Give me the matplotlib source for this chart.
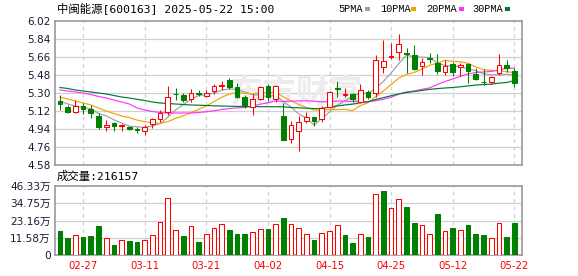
import matplotlib
matplotlib.use('Agg')
import matplotlib.pyplot as plt
from matplotlib.patches import Rectangle

# ---------------- data ----------------
dates = ['02-24','02-25','02-26','02-27','02-28','03-03','03-04','03-05','03-06','03-07',
         '03-10','03-11','03-12','03-13','03-14','03-17','03-18','03-19','03-20','03-21',
         '03-24','03-25','03-26','03-27','03-28','03-31','04-01','04-02','04-03','04-07',
         '04-08','04-09','04-10','04-11','04-14','04-15','04-16','04-17','04-18','04-21',
         '04-22','04-23','04-24','04-25','04-28','04-29','04-30','05-06','05-07','05-08',
         '05-09','05-12','05-13','05-14','05-15','05-16','05-19','05-20','05-21','05-22']

opens  = [5.22,5.16,5.11,5.17,5.14,5.07,4.96,5.00,4.97,4.96,
          4.94,4.92,4.99,5.04,5.11,5.295,5.28,5.24,5.30,5.27,
          5.32,5.375,5.43,5.36,5.26,5.16,5.24,5.37,5.24,5.07,
          4.84,4.92,5.02,5.06,5.04,5.16,5.35,5.285,5.29,5.21,
          5.31,5.30,5.56,5.66,5.71,5.70,5.68,5.57,5.655,5.60,
          5.51,5.59,5.56,5.59,5.49,5.415,5.41,5.50,5.58,5.52]
highs  = [5.28,5.18,5.23,5.20,5.18,5.10,5.03,5.01,4.99,4.97,
          4.96,4.98,5.05,5.13,5.37,5.35,5.30,5.34,5.33,5.33,
          5.39,5.42,5.45,5.40,5.28,5.29,5.37,5.39,5.38,5.20,
          5.02,5.07,5.11,5.06,5.17,5.32,5.42,5.35,5.30,5.39,
          5.33,5.68,5.83,5.80,5.89,5.75,5.78,5.65,5.70,5.69,
          5.63,5.61,5.60,5.60,5.55,5.54,5.47,5.69,5.63,5.55]
lows   = [5.13,5.10,5.10,5.09,5.05,4.94,4.92,4.92,4.92,4.93,
          4.90,4.88,4.95,5.01,5.08,5.23,5.21,5.21,5.27,5.26,
          5.29,5.33,5.34,5.25,5.15,5.08,5.23,5.22,5.21,4.83,
          4.80,4.72,5.00,4.97,5.01,5.15,5.26,5.26,5.21,5.20,
          5.24,5.26,5.50,5.64,5.63,5.50,5.53,5.48,5.60,5.49,
          5.48,5.47,5.47,5.40,5.43,5.38,5.39,5.48,5.51,5.36]
closes = [5.19,5.11,5.17,5.14,5.10,4.96,4.985,4.975,4.98,4.94,
          4.93,4.96,5.04,5.10,5.26,5.29,5.23,5.30,5.295,5.30,
          5.37,5.38,5.36,5.26,5.18,5.24,5.36,5.26,5.37,4.83,
          4.98,5.01,5.06,5.02,5.15,5.31,5.345,5.29,5.24,5.33,
          5.26,5.63,5.62,5.665,5.79,5.69,5.54,5.61,5.64,5.52,
          5.57,5.51,5.58,5.52,5.44,5.41,5.46,5.58,5.55,5.40]

ma5  = [5.22,5.19,5.17,5.155,5.142,5.096,5.071,5.032,5.000,4.968,
        4.962,4.957,4.970,4.994,5.058,5.130,5.184,5.236,5.275,5.283,
        5.299,5.329,5.341,5.334,5.310,5.284,5.280,5.260,5.282,5.212,
        5.160,5.090,5.050,4.980,5.044,5.110,5.177,5.223,5.267,5.303,
        5.293,5.350,5.416,5.501,5.593,5.679,5.661,5.659,5.654,5.600,
        5.576,5.570,5.564,5.540,5.524,5.492,5.482,5.482,5.488,5.480]
ma10 = [5.26,5.24,5.22,5.20,5.18,5.15,5.12,5.095,5.07,5.055,
        5.029,5.014,5.001,4.997,5.013,5.046,5.071,5.103,5.135,5.171,
        5.215,5.257,5.289,5.305,5.297,5.292,5.305,5.301,5.308,5.261,
        5.222,5.185,5.155,5.131,5.128,5.135,5.134,5.137,5.124,5.174,
        5.202,5.264,5.320,5.384,5.448,5.486,5.506,5.538,5.578,5.597,
        5.628,5.616,5.612,5.597,5.562,5.534,5.526,5.523,5.514,5.502]
ma20 = [5.33,5.32,5.31,5.30,5.285,5.265,5.25,5.23,5.21,5.19,
        5.15,5.13,5.115,5.105,5.10,5.10,5.10,5.10,5.105,5.113,
        5.122,5.135,5.145,5.151,5.155,5.169,5.188,5.202,5.221,5.216,
        5.218,5.221,5.222,5.218,5.212,5.213,5.219,5.219,5.216,5.217,
        5.212,5.224,5.237,5.258,5.288,5.311,5.320,5.337,5.351,5.385,
        5.415,5.440,5.466,5.491,5.505,5.510,5.516,5.530,5.546,5.549]
ma30 = [5.355,5.345,5.33,5.32,5.31,5.30,5.29,5.275,5.26,5.25,
        5.237,5.225,5.21,5.20,5.195,5.19,5.185,5.18,5.178,5.175,
        5.172,5.17,5.168,5.166,5.165,5.164,5.163,5.163,5.163,5.162,
        5.155,5.152,5.148,5.144,5.146,5.158,5.170,5.180,5.189,5.202,
        5.213,5.235,5.254,5.273,5.291,5.304,5.315,5.325,5.336,5.344,
        5.350,5.355,5.362,5.371,5.379,5.385,5.388,5.399,5.405,5.424]

# volume in 万 (10,000 shares)
volume = [16.1,11.4,13.2,12.1,12.8,19.5,11.2,6.7,9.8,9.4,
          8.7,9.8,13.2,21.9,38.0,16.6,12.8,19.2,8.7,13.9,
          17.9,20.6,16.8,14.1,14.1,15.2,17.2,17.5,20.6,24.8,
          20.6,17.9,13.9,10.1,14.5,15.9,19.9,13.4,8.1,13.9,
          12.1,40.7,43.0,31.3,37.4,32.2,21.5,19.9,13.9,27.5,
          15.9,18.1,16.6,20.1,14.1,13.4,11.2,21.3,12.1,21.6157]

price_ticks = [4.58,4.76,4.94,5.12,5.30,5.48,5.66,5.84,6.02]
vol_ticks = [0,11.58,23.16,34.75,46.33]
vol_tick_labels = ['0','11.58万','23.16万','34.75万','46.33万']
date_ticks = ['02-27','03-11','03-21','04-02','04-15','04-25','05-12','05-22']
title_text = '中闽能源[600163] 2025-05-22 15:00'
vol_text = '成交量:216157'
ma_names = ['5PMA','10PMA','20PMA','30PMA']

# ---------------- style ----------------
RED = '#ff0000'
GREEN = '#008000'
MA_COLORS = ['#a0a0a0', '#f5a300', '#ff33ff', '#007a33']
GRID = '#d0d0d0'
SPINE = '#999999'
LABEL = '#1a1a33'
CJK = ['DejaVu Sans', 'Noto Sans CJK SC']
MONO = ['DejaVu Sans Mono', 'Noto Sans CJK SC']

W, H = 578, 276
fig = plt.figure(figsize=(W / 100, H / 100), dpi=100)
fig.patch.set_facecolor('white')

def fx(px):
    return px / W

def fy(py):
    return 1 - py / H

L, R = 55, 522
ax = fig.add_axes([fx(L), fy(165), (R - L) / W, (165 - 21) / H])
axv = fig.add_axes([fx(L), fy(255), (R - L) / W, (255 - 186) / H])

n = len(closes)
xs = list(range(n))
tick_idx = [dates.index(d) for d in date_ticks]
xlim = (-0.65, 60.0)
bw = 0.6

for a in (ax, axv):
    a.set_xlim(*xlim)
    for s in a.spines.values():
        s.set_color(SPINE)
        s.set_linewidth(1.2)
    for t in tick_idx:
        a.axvline(t, color=GRID, lw=0.9, ls=(0, (3, 3)), zorder=0)
    a.tick_params(axis='both', length=0)

# main price axes
ax.set_ylim(price_ticks[0], price_ticks[-1])
ax.set_yticks(price_ticks)
ax.set_yticklabels(['%.2f' % t for t in price_ticks])
ax.tick_params(axis='y', pad=3, labelsize=7.6, labelcolor=LABEL)
ax.set_xticks([])
for t in price_ticks[1:-1]:
    ax.axhline(t, color=GRID, lw=0.9, zorder=0)

ax.text(0.515, 0.49, '东方财富', transform=ax.transAxes, ha='center', va='center',
        fontsize=24, fontweight='bold', color='#ececec', family='Noto Sans CJK SC', zorder=0)

for name, vals, c in zip(ma_names, [ma5, ma10, ma20, ma30], MA_COLORS):
    ax.plot(xs, vals, color=c, lw=0.85, zorder=2)

for i in xs:
    o, h, l, c = opens[i], highs[i], lows[i], closes[i]
    up = c >= o
    col = RED if up else GREEN
    ax.vlines(i, l, h, color=col, lw=0.75, zorder=3)
    lo, hi = min(o, c), max(o, c)
    hgt = max(hi - lo, 0.002)
    if up:
        ax.add_patch(Rectangle((i - bw / 2, lo), bw, hgt, facecolor='white',
                               edgecolor=col, lw=0.75, zorder=4))
    else:
        ax.add_patch(Rectangle((i - bw / 2, lo), bw, hgt, facecolor=col,
                               edgecolor=col, lw=0.75, zorder=4))

# volume axes
axv.set_ylim(vol_ticks[0], vol_ticks[-1])
axv.set_yticks(vol_ticks)
axv.set_yticklabels(vol_tick_labels, family=CJK)
axv.tick_params(axis='y', pad=3, labelsize=7.6, labelcolor=LABEL)
for t in vol_ticks[1:-1]:
    axv.axhline(t, color=GRID, lw=0.9, zorder=0)
axv.set_xticks(tick_idx)
axv.set_xticklabels(date_ticks)
axv.tick_params(axis='x', pad=4, labelsize=7.3, labelcolor=RED)

for i in xs:
    up = closes[i] >= (closes[i - 1] if i > 0 else opens[i])
    col = RED if up else GREEN
    if up:
        axv.add_patch(Rectangle((i - bw / 2, 0), bw, volume[i], facecolor='white',
                                edgecolor=col, lw=0.75, zorder=3))
    else:
        axv.add_patch(Rectangle((i - bw / 2, 0), bw, volume[i], facecolor=col,
                                edgecolor=col, lw=0.75, zorder=3))

# texts
fig.text(fx(57), fy(8.5), title_text, ha='left', va='center', fontsize=8.2,
         family=MONO, color='black')
fig.text(fx(57), fy(176.5), vol_text, ha='left', va='center', fontsize=8.2,
         family=MONO, color='black')

leg_x = [338, 380, 426, 472]
sq_x = [365, 411, 459, 505]
for name, c, tx, sx in zip(ma_names, MA_COLORS, leg_x, sq_x):
    fig.text(fx(tx), fy(9), name, ha='left', va='center', fontsize=7.4,
             family='Liberation Mono', color='black')
    fig.add_artist(Rectangle((fx(sx), fy(10.5)), 5 / W, 3.5 / H, transform=fig.transFigure,
                             facecolor=c, edgecolor='none'))

fig.savefig('out.png', dpi=100, facecolor='white')
